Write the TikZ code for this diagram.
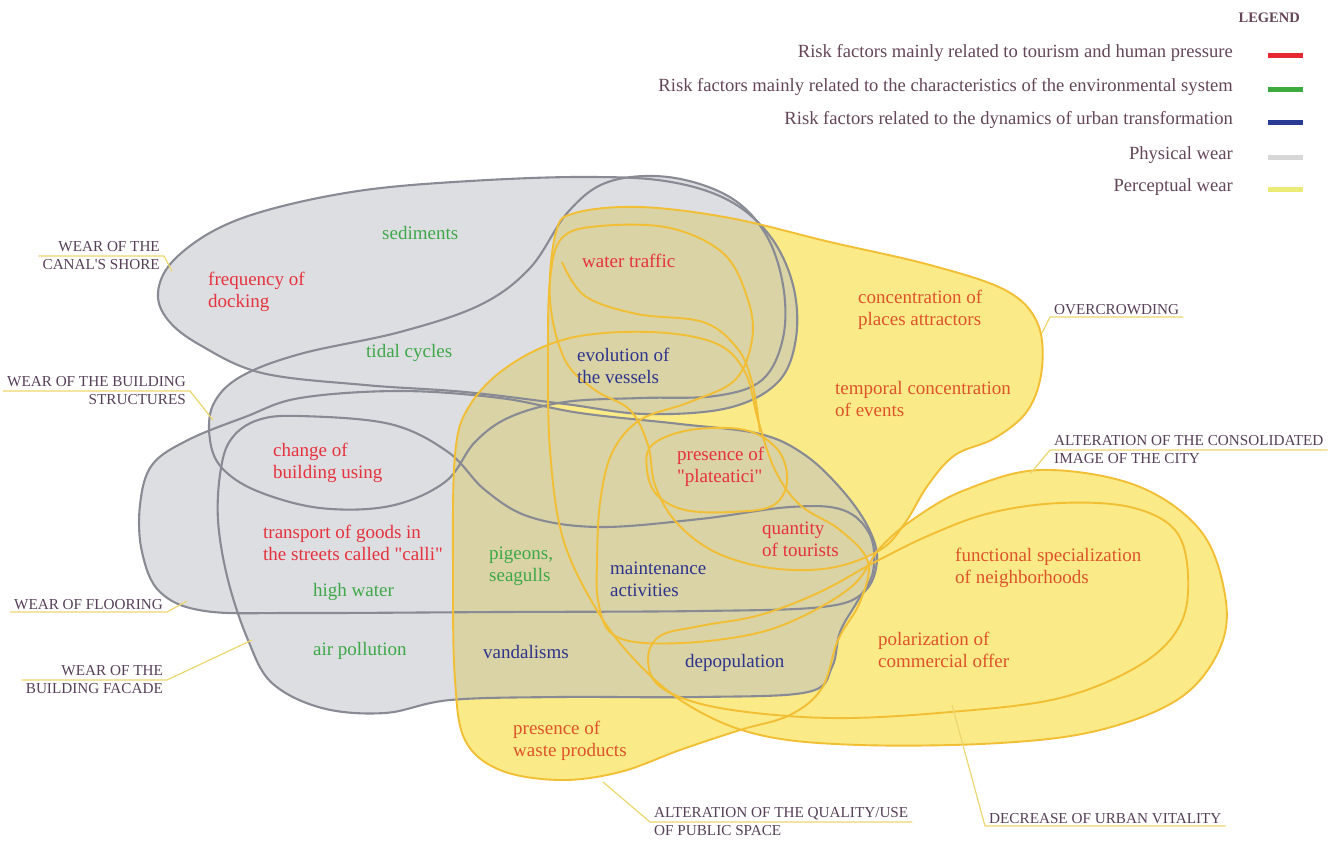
\documentclass[tikz,border=0pt]{standalone}
\usepackage{fontspec}
\setmainfont{Liberation Serif}[Ligatures=TeXOff]
\definecolor{physfill}{RGB}{187,189,197}
\definecolor{physline}{RGB}{136,139,148}
\definecolor{percfill}{RGB}{250,234,136}
\definecolor{percline}{RGB}{242,190,52}
\definecolor{leadline}{RGB}{238,214,110}
\definecolor{capsink}{RGB}{86,64,88}
\definecolor{legink}{RGB}{100,70,88}
\definecolor{tourred}{RGB}{230,50,60}
\definecolor{tourorange}{RGB}{222,84,42}
\definecolor{envgreen}{RGB}{62,168,72}
\definecolor{urbblue}{RGB}{45,52,140}
\begin{document}
\begin{tikzpicture}[x=1pt,y=-1pt,
  blob/.style={smooth cycle,tension=0.6},
  physedge/.style={draw=physline,line width=2.1pt},
  percedge/.style={draw=percline,line width=1.9pt},
  factor/.style={font=\fontsize{19}{22}\selectfont,align=left,anchor=west,inner sep=0pt},
  tourism/.style={factor,text=tourred},
  tourismy/.style={factor,text=tourorange},
  environ/.style={factor,text=envgreen},
  urban/.style={factor,text=urbblue},
  wear/.style={font=\fontsize{15.2}{18}\selectfont,text=capsink,inner xsep=4pt,inner ysep=2pt},
  leader/.style={draw=leadline,line width=1.2pt},
  legtext/.style={font=\fontsize{18.6}{21}\selectfont,text=legink,anchor=east,inner sep=0pt},
  legbar/.style={line width=5pt}
]
\useasboundingbox (0,0) rectangle (1335,841);

% physical wear areas
\path[save path=\pShore] plot[blob] coordinates {(158,293) (172,262) (215,230) (275,208) (365,190) (470,181) (580,177) (665,181) (728,200) (770,236) (793,285) (796,338) (778,382) (728,408) (645,414) (565,404) (465,392) (365,385) (262,373) (200,345) (168,320)};
\path[save path=\pStruct] plot[blob] coordinates {(210,440) (213,405) (240,377) (300,354) (400,332) (480,305) (530,268) (568,212) (608,182) (668,177) (728,196) (765,233) (783,285) (783,338) (762,380) (715,396) (640,398) (565,402) (510,417) (475,442) (445,482) (390,506) (320,508) (257,491) (222,468)};
\path[save path=\pFloor] plot[blob] coordinates {(140,505) (152,465) (188,440) (245,417) (300,398) (400,391) (500,398) (580,413) (680,424) (760,434) (805,455) (842,490) (868,527) (877,560) (864,592) (822,607) (700,611) (500,612) (300,613) (205,611) (160,592) (142,552)};
\path[save path=\pFacade] plot[blob] coordinates {(232,438) (258,420) (300,416) (390,424) (448,452) (485,490) (530,517) (600,527) (700,519) (790,507) (843,510) (870,535) (873,572) (857,602) (840,632) (832,667) (808,692) (700,697) (560,697) (450,700) (385,713) (322,708) (272,683) (248,640) (228,580) (218,520) (221,468)};

% perceptual wear areas
\path[save path=\pCrowd] plot[blob] coordinates {(556,232) (575,213) (640,207) (730,218) (830,242) (930,265) (1005,290) (1037,322) (1042,368) (1028,410) (995,438) (955,455) (928,485) (905,523) (880,550) (830,568) (770,568) (715,552) (676,522) (655,485) (648,445) (630,410) (595,390) (565,360) (550,300)};
\path[save path=\pImage] plot[blob] coordinates {(1225,595) (1200,530) (1135,485) (1040,470) (965,490) (915,518) (880,548) (850,588) (783,625) (717,640) (645,643) (610,632) (598,600) (597,563) (600,503) (612,453) (640,420) (690,402) (735,380) (752,340) (748,300) (724,254) (670,228) (600,226) (562,238) (550,280) (548,360) (550,450) (562,535) (592,602) (632,657) (688,705) (760,735) (860,745) (1000,743) (1100,730) (1180,698) (1220,648)};
\path[save path=\pVital] plot[blob] coordinates {(1188,575) (1175,530) (1130,507) (1060,503) (990,513) (930,535) (875,562) (820,592) (760,615) (700,626) (660,636) (648,660) (662,688) (720,708) (830,718) (950,712) (1060,698) (1140,665) (1180,625)};
\path[save path=\pPublic] plot[blob] coordinates {(455,455) (470,405) (510,365) (570,338) (650,332) (715,343) (745,372) (758,420) (775,470) (800,505) (840,530) (868,562) (860,602) (838,640) (822,688) (790,715) (740,730) (680,750) (620,772) (560,780) (500,770) (465,740) (455,680) (453,580)};
\path[save path=\pPlat] plot[blob] coordinates {(652,445) (690,430) (745,430) (778,450) (787,482) (772,506) (730,512) (685,510) (657,495) (647,470)};

\path[fill=percfill,use path=\pCrowd];
\path[fill=percfill,use path=\pImage];
\path[fill=percfill,use path=\pVital];
\path[fill=percfill,use path=\pPublic];

\begin{scope}[transparency group,opacity=0.5]
  \path[fill=physfill,use path=\pShore];
  \path[fill=physfill,use path=\pStruct];
  \path[fill=physfill,use path=\pFloor];
  \path[fill=physfill,use path=\pFacade];
\end{scope}

\path[physedge,use path=\pShore];
\path[physedge,use path=\pStruct];
\path[physedge,use path=\pFloor];
\path[physedge,use path=\pFacade];

\path[percedge,use path=\pCrowd];
\path[percedge,use path=\pImage];
\path[percedge,use path=\pVital];
\path[percedge,use path=\pPublic];
\path[percedge,use path=\pPlat];
\draw[percedge] plot[smooth,tension=0.6] coordinates {(562,262) (585,296) (637,314) (703,322) (737,348) (752,382) (760,432)};

% risk factors
\node[environ] (sediments) at (382,233) {sediments};
\node[tourism] (docking) at (208,292) {frequency of\\docking};
\node[tourism] (traffic) at (582,261) {water traffic};
\node[tourismy] (attractors) at (858,310) {concentration of\\places attractors};
\node[environ] (tidal) at (366,353) {tidal cycles};
\node[urban] (vessels) at (577,366) {evolution of\\the vessels};
\node[tourismy] (events) at (835,399) {temporal concentration\\of events};
\node[tourism] (usechange) at (273,463) {change of\\building using};
\node[tourism] (plateatici) at (677,467) {presence of\\"plateatici"};
\node[tourism] (calli) at (263,543) {transport of goods in\\the streets called "calli"};
\node[tourism] (tourists) at (762,539) {quantity\\of tourists};
\node[tourismy] (specialization) at (955,568) {functional specialization\\of neighborhoods};
\node[environ] (pigeons) at (489,566) {pigeons,\\seagulls};
\node[urban] (maintenance) at (610,579) {maintenance\\activities};
\node[environ] (highwater) at (313,592) {high water};
\node[tourismy] (polarization) at (878,650) {polarization of\\commercial offer};
\node[environ] (airpollution) at (313,651) {air pollution};
\node[urban] (vandalisms) at (483,652) {vandalisms};
\node[urban] (depopulation) at (685,663) {depopulation};
\node[tourismy] (waste) at (513,741) {presence of\\waste products};

% wear labels
\node[wear,align=right,anchor=east] (lshore) at (164,256) {WEAR OF THE\\CANAL'S SHORE};
\node[wear,align=right,anchor=east] (lstruct) at (190,391) {WEAR OF THE BUILDING\\STRUCTURES};
\node[wear,anchor=south east] (lfloor) at (167,612) {WEAR OF FLOORING};
\node[wear,align=right,anchor=east] (lfacade) at (167,680) {WEAR OF THE\\BUILDING FACADE};
\node[wear,anchor=south west] (lcrowd) at (1050,317) {OVERCROWDING};
\node[wear,align=left,anchor=west] (limage) at (1050,450) {ALTERATION OF THE CONSOLIDATED\\IMAGE OF THE CITY};
\node[wear,align=left,anchor=west] (lpublic) at (650,822) {ALTERATION OF THE QUALITY/USE\\OF PUBLIC SPACE};
\node[wear,anchor=south west] (lvital) at (985,826) {DECREASE OF URBAN VITALITY};

\coordinate (tshore) at (172,271);
\coordinate (tstruct) at (213,420);
\coordinate (tfloor) at (187,601);
\coordinate (tfacade) at (252,640);
\coordinate (tcrowd) at (1042,333);
\coordinate (timage) at (1030,474);
\coordinate (tpublic) at (603,782);
\coordinate (tvital) at (952,705);

\draw[leader] (lshore.west) -- (lshore.east) -- (tshore);
\draw[leader] (lstruct.west) -- (lstruct.east) -- (tstruct);
\draw[leader] (lfloor.south west) -- (lfloor.south east) -- (tfloor);
\draw[leader] (lfacade.west) -- (lfacade.east) -- (tfacade);
\draw[leader] (tcrowd) -- (lcrowd.south west) -- (lcrowd.south east);
\draw[leader] (timage) -- (limage.west) -- (limage.east);
\draw[leader] (tpublic) -- (lpublic.west) -- (lpublic.east);
\draw[leader] (tvital) -- (lvital.south west) -- (lvital.south east);

% legend
\node[font=\bfseries\fontsize{14.5}{16}\selectfont,text=legink,anchor=east,inner sep=0pt] (legend) at (1300,18) {LEGEND};
\node[legtext] (legtour) at (1233,53) {Risk factors mainly related to tourism and human pressure};
\node[legtext] (legenv) at (1233,87) {Risk factors mainly related to the characteristics of the environmental system};
\node[legtext] (legurb) at (1233,120) {Risk factors related to the dynamics of urban transformation};
\node[legtext] (legphys) at (1233,155) {Physical wear};
\node[legtext] (legperc) at (1233,187) {Perceptual wear};
\draw[legbar,draw={rgb,255:red,230;green,40;blue,50}] ([xshift=35pt,yshift=-2pt]legtour.east) -- ++(35,0);
\draw[legbar,draw={rgb,255:red,60;green,170;blue,60}] ([xshift=35pt,yshift=-2pt]legenv.east) -- ++(35,0);
\draw[legbar,draw={rgb,255:red,40;green,60;blue,150}] ([xshift=35pt,yshift=-2pt]legurb.east) -- ++(35,0);
\draw[legbar,draw={rgb,255:red,215;green,215;blue,215}] ([xshift=35pt,yshift=-2pt]legphys.east) -- ++(35,0);
\draw[legbar,draw={rgb,255:red,235;green,235;blue,120}] ([xshift=35pt,yshift=-2pt]legperc.east) -- ++(35,0);
\end{tikzpicture}
\end{document}
